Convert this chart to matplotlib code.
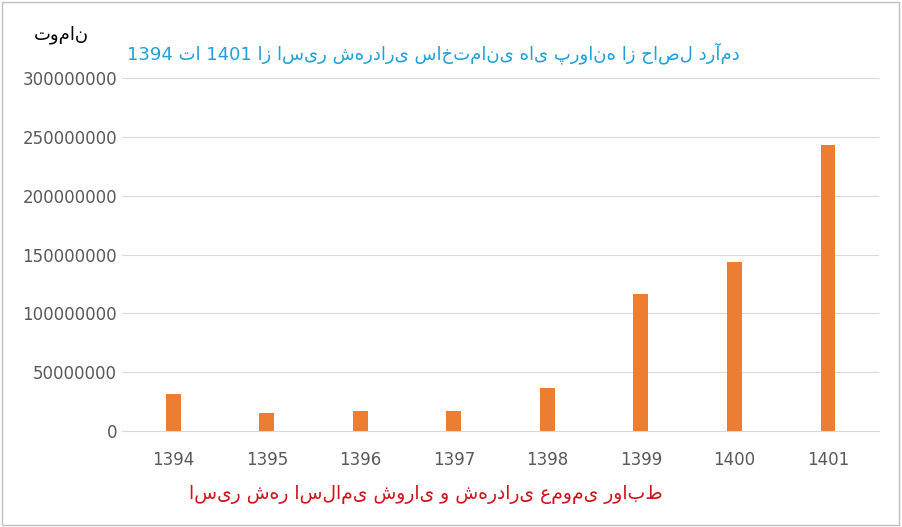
import matplotlib.pyplot as plt
from matplotlib.patches import Rectangle

years = ['1394', '1395', '1396', '1397', '1398', '1399', '1400', '1401']
income = [31500000, 15300000, 17000000, 17000000, 36500000, 116500000, 143500000, 243000000]
yticks = [0, 50000000, 100000000, 150000000, 200000000, 250000000, 300000000]

title_txt = 'درآمد حاصل از پروانه های ساختمانی شهرداری اسیر از 1401 تا 1394'
unit_txt = 'تومان'
foot_txt = 'روابط عمومی شهرداری و شورای اسلامی شهر اسیر'


def rtl(s):
    # letters get shaped, but word order is left to right, so flip the words
    return ' '.join(s.split(' ')[::-1])


fig = plt.figure(figsize=(9.02, 5.27), dpi=100)
ax = fig.add_axes([0.135, 0.182, 0.84, 0.67])
ax.bar(range(len(years)), income, width=0.16, color='#ed7d31')
ax.set_xlim(-0.55, len(years) - 0.45)
ax.set_ylim(0, 300000000)
ax.set_yticks(yticks)
ax.set_yticklabels([str(v) for v in yticks])
ax.set_xticks(range(len(years)))
ax.set_xticklabels(years)
ax.tick_params(length=0, labelsize=12, colors='#595959')
ax.tick_params(axis='x', pad=14)
ax.grid(axis='y', color='#d9d9d9', linewidth=0.8)
ax.set_axisbelow(True)
for s in ['top', 'right', 'left']:
    ax.spines[s].set_visible(False)
ax.spines['bottom'].set_color('#d9d9d9')

fam = ['DejaVu Sans', 'Noto Sans']
fig.text(0.48, 0.9, rtl(title_txt), color='#1fa0d8', fontsize=13,
         family=fam, ha='center', va='center')
fig.text(0.068, 0.935, rtl(unit_txt), color='black', fontsize=13,
         family=fam, ha='center', va='center')
fig.text(0.472, 0.062, rtl(foot_txt), color='#d0121b', fontsize=13.5,
         family=fam, ha='center', va='center')
fig.patches.append(Rectangle((0.002, 0.003), 0.995, 0.994, transform=fig.transFigure,
                             fill=False, edgecolor='#bfbfbf', linewidth=1))
fig.savefig('out.png', dpi=100)
